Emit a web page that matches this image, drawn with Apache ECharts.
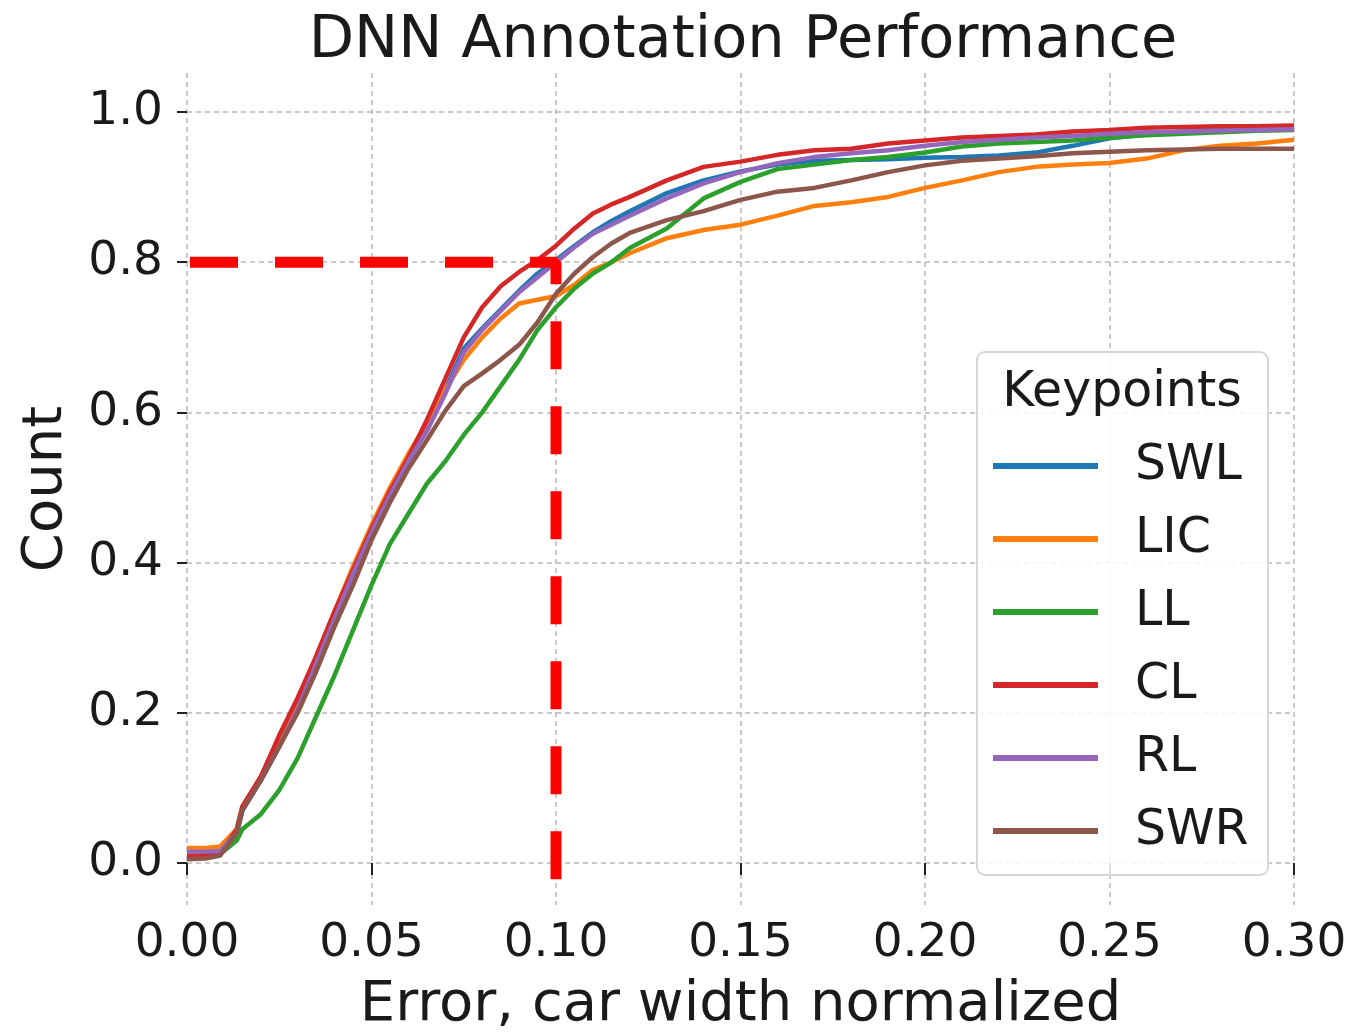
<!DOCTYPE html>
<html>
<head>
<meta charset="utf-8">
<script src="https://cdn.jsdelivr.net/npm/echarts@6/dist/echarts.min.js"></script>
<style>
  html, body { margin: 0; padding: 0; background: #fff; }
  #main { width: 1355px; height: 1033px; }
</style>
</head>
<body>
<div id="main"></div>
<script>
// error thresholds (x) shared by all curves
var errX = [0, 0.005, 0.009, 0.0135, 0.015, 0.02, 0.025, 0.03, 0.035, 0.04, 0.045,
  0.05, 0.055, 0.06, 0.065, 0.07, 0.075, 0.08, 0.085, 0.09, 0.095, 0.10, 0.105,
  0.11, 0.115, 0.12, 0.13, 0.14, 0.15, 0.16, 0.17, 0.18, 0.19, 0.20, 0.21, 0.22,
  0.23, 0.24, 0.25, 0.26, 0.27, 0.28, 0.29, 0.30];

var names = ['SWL', 'LIC', 'LL', 'CL', 'RL', 'SWR'];
var colors = ['#1f77b4', '#ff7f0e', '#2ca02c', '#d62728', '#9467bd', '#8c564b'];

var swl = [0.012, 0.012, 0.014, 0.04, 0.07, 0.11, 0.155, 0.21, 0.265, 0.325, 0.385, 0.44, 0.49, 0.535, 0.578, 0.63, 0.685, 0.712, 0.737, 0.762, 0.785, 0.803, 0.822, 0.840, 0.855, 0.868, 0.892, 0.909, 0.921, 0.93, 0.935, 0.936, 0.937, 0.939, 0.940, 0.942, 0.946, 0.955, 0.965, 0.97, 0.974, 0.977, 0.979, 0.98];
var lic = [0.02, 0.02, 0.022, 0.045, 0.075, 0.115, 0.16, 0.215, 0.275, 0.335, 0.395, 0.45, 0.50, 0.545, 0.585, 0.63, 0.67, 0.70, 0.725, 0.745, 0.75, 0.755, 0.77, 0.79, 0.80, 0.812, 0.832, 0.843, 0.85, 0.862, 0.875, 0.88, 0.887, 0.899, 0.909, 0.92, 0.927, 0.93, 0.932, 0.938, 0.949, 0.955, 0.958, 0.963];
var ll = [0.01, 0.01, 0.012, 0.03, 0.045, 0.065, 0.097, 0.14, 0.195, 0.25, 0.31, 0.37, 0.425, 0.465, 0.505, 0.535, 0.57, 0.60, 0.635, 0.67, 0.71, 0.74, 0.765, 0.785, 0.80, 0.819, 0.845, 0.885, 0.907, 0.924, 0.93, 0.936, 0.94, 0.946, 0.954, 0.958, 0.96, 0.962, 0.966, 0.969, 0.971, 0.973, 0.975, 0.976];
var cl = [0.01, 0.01, 0.012, 0.045, 0.075, 0.115, 0.17, 0.22, 0.275, 0.335, 0.39, 0.445, 0.495, 0.54, 0.59, 0.645, 0.70, 0.74, 0.768, 0.787, 0.803, 0.822, 0.845, 0.865, 0.877, 0.887, 0.909, 0.927, 0.934, 0.943, 0.949, 0.951, 0.958, 0.962, 0.966, 0.968, 0.97, 0.974, 0.976, 0.979, 0.98, 0.981, 0.981, 0.982];
var rl = [0.015, 0.015, 0.016, 0.04, 0.07, 0.11, 0.155, 0.205, 0.265, 0.325, 0.385, 0.44, 0.49, 0.535, 0.575, 0.625, 0.68, 0.71, 0.735, 0.76, 0.78, 0.80, 0.82, 0.838, 0.85, 0.862, 0.885, 0.905, 0.92, 0.932, 0.94, 0.945, 0.949, 0.955, 0.96, 0.963, 0.966, 0.968, 0.971, 0.973, 0.974, 0.975, 0.976, 0.977];
var swr = [0.005, 0.006, 0.01, 0.04, 0.07, 0.11, 0.155, 0.2, 0.255, 0.315, 0.37, 0.43, 0.48, 0.525, 0.563, 0.602, 0.635, 0.652, 0.67, 0.69, 0.72, 0.758, 0.785, 0.807, 0.825, 0.839, 0.856, 0.868, 0.883, 0.894, 0.899, 0.909, 0.92, 0.929, 0.935, 0.938, 0.941, 0.945, 0.947, 0.949, 0.95, 0.951, 0.951, 0.951];

// red reference line: 80% of points within 0.10
var refX = [0, 0.10, 0.10];
var refY = [0.8, 0.8, -0.048];

var yTicks = [0, 0.2, 0.4, 0.6, 0.8, 1.0];

var font = 'DejaVu Sans';

function pairs(xs, ys) {
  return xs.map(function (x, i) { return [x, ys[i]]; });
}

var chart = echarts.init(document.getElementById('main'));

var allY = [swl, lic, ll, cl, rl, swr];
var series = names.map(function (n, i) {
  return {
    name: n,
    type: 'line',
    data: pairs(errX, allY[i]),
    showSymbol: false,
    symbol: 'none',
    lineStyle: { color: colors[i], width: 4.5 },
    itemStyle: { color: colors[i] },
    animation: false
  };
});
series.push({
  name: 'ref',
  type: 'line',
  data: pairs(refX, refY),
  symbol: 'none',
  lineStyle: { color: '#ff0000', width: 11, type: [48, 37], dashOffset: 82, cap: 'butt' },
  z: 5,
  animation: false
});

var option = {
  animation: false,
  title: {
    text: 'DNN Annotation Performance',
    left: 738,
    textAlign: 'center',
    top: 7,
    textStyle: { fontFamily: font, fontSize: 59, fontWeight: 'normal', color: '#1a1a1a' }
  },
  grid: { left: 187, right: 61, top: 73, bottom: 128, outerBoundsMode: 'none', containLabel: false },
  xAxis: {
    type: 'value',
    min: 0,
    max: 0.3,
    interval: 0.05,
    name: 'Error, car width normalized',
    nameLocation: 'middle',
    nameGap: 72,
    nameTextStyle: { fontFamily: font, fontSize: 56, color: '#1a1a1a' },
    axisLine: { show: false },
    axisTick: { show: true, length: 12, lineStyle: { color: '#222', width: 2 } },
    axisLabel: {
      margin: 15,
      fontFamily: font, fontSize: 47, color: '#1a1a1a',
      formatter: function (v) { return v.toFixed(2); }
    },
    splitLine: { show: true, lineStyle: { color: '#b8b8b8', width: 1.5, type: [5, 4] } }
  },
  yAxis: {
    type: 'value',
    min: -0.056,
    max: 1.052,
    name: 'Count',
    nameLocation: 'middle',
    nameGap: 113,
    nameTextStyle: { fontFamily: font, fontSize: 56, color: '#1a1a1a' },
    axisLine: { show: false },
    axisTick: { show: true, length: 10, customValues: yTicks, lineStyle: { color: '#222', width: 2 } },
    axisLabel: {
      margin: 24,
      customValues: yTicks,
      fontFamily: font, fontSize: 47, color: '#1a1a1a',
      formatter: function (v) { return v.toFixed(1); }
    },
    splitLine: { show: true, lineStyle: { color: '#b8b8b8', width: 1.5, type: [5, 4] } }
  },
  legend: {
    data: names,
    orient: 'vertical',
    left: 988,
    top: 436,
    icon: 'rect',
    itemWidth: 105,
    itemHeight: 6,
    itemGap: 23,
    textStyle: { fontFamily: font, fontSize: 49, lineHeight: 50, color: '#1a1a1a', padding: [0, 0, 0, 32] },
    z: 20
  },
  graphic: [
    {
      type: 'rect',
      shape: { x: 977, y: 352, width: 291, height: 523, r: 8 },
      style: { fill: 'rgba(255,255,255,0.85)', stroke: '#d6d6d6', lineWidth: 2 },
      z: 10
    },
    {
      type: 'text',
      x: 1122,
      y: 393,
      style: {
        text: 'Keypoints',
        font: '49px "DejaVu Sans"',
        fill: '#1a1a1a',
        textAlign: 'center',
        textVerticalAlign: 'middle'
      },
      z: 11
    }
  ],
  series: series
};

chart.setOption(option);
</script>
</body>
</html>
